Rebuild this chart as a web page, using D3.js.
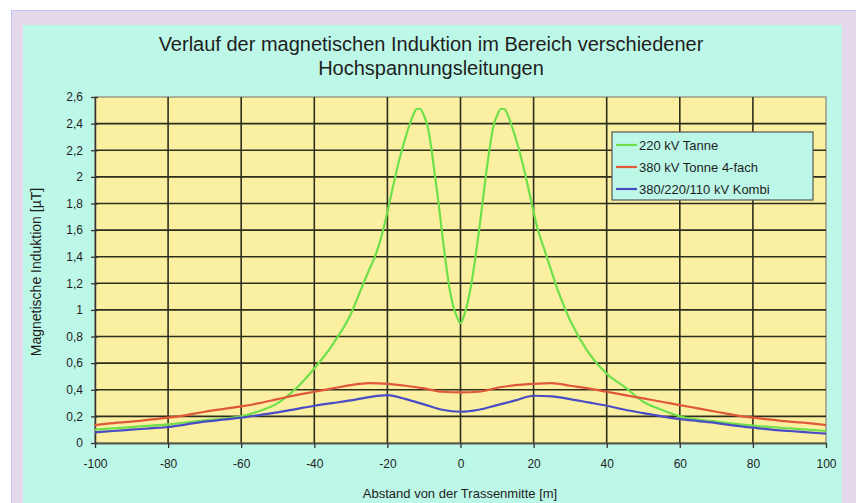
<!DOCTYPE html>
<html>
<head>
<meta charset="utf-8">
<script src="https://cdn.jsdelivr.net/npm/d3@7"></script>
<style>
  html, body { margin: 0; padding: 0; background: #ffffff; }
  svg { display: block; }
  text { font-family: "Liberation Sans", Arial, sans-serif; fill: #1e1e1e; }
</style>
</head>
<body>
<svg id="chart" width="856" height="503"></svg>
<script>
// ---- data ----
const titleLines = ["Verlauf der magnetischen Induktion im Bereich verschiedener", "Hochspannungsleitungen"];
const xAxisTitle = "Abstand von der Trassenmitte [m]";
const yAxisTitle = "Magnetische Induktion [\u00b5T]";
const seriesNames = ["220 kV Tanne", "380 kV Tonne 4-fach", "380/220/110 kV Kombi"];
const xTicks = [-100, -80, -60, -40, -20, 0, 20, 40, 60, 80, 100];
const yTicks = [0, 0.2, 0.4, 0.6, 0.8, 1, 1.2, 1.4, 1.6, 1.8, 2, 2.2, 2.4, 2.6];

const greenX = [-100, -90, -80, -70, -60, -55, -50, -45, -40, -35, -30, -27, -25, -23, -21, -19, -17, -15, -13, -12, -11, -10, -9, -8, -7, -6, -5, -4, -3, -2, -1, 0,
                 1, 2, 3, 4, 5, 6, 7, 8, 9, 10, 11, 12, 13, 15, 17, 19, 21, 23, 25, 27, 30, 35, 40, 45, 50, 55, 60, 70, 80, 90, 100];
const greenY = [0.10, 0.12, 0.14, 0.17, 0.20, 0.24, 0.30, 0.41, 0.56, 0.74, 0.97, 1.17, 1.30, 1.43, 1.62, 1.86, 2.10, 2.30, 2.46, 2.51, 2.51, 2.46, 2.38, 2.22, 2.01, 1.80, 1.57, 1.35, 1.16, 1.03, 0.95, 0.90,
                 0.96, 1.06, 1.20, 1.38, 1.58, 1.80, 2.02, 2.22, 2.38, 2.46, 2.51, 2.51, 2.46, 2.30, 2.10, 1.86, 1.62, 1.45, 1.28, 1.12, 0.92, 0.68, 0.52, 0.42, 0.31, 0.25, 0.20, 0.16, 0.13, 0.11, 0.09];

const stepX = [-100, -95, -90, -85, -80, -75, -70, -65, -60, -55, -50, -45, -40, -35, -30, -25, -20, -15, -10, -5, 0,
               5, 10, 15, 20, 25, 30, 35, 40, 45, 50, 55, 60, 65, 70, 75, 80, 85, 90, 95, 100];
const redY = [0.135, 0.15, 0.16, 0.175, 0.19, 0.21, 0.235, 0.255, 0.275, 0.30, 0.33, 0.36, 0.385, 0.41, 0.435, 0.45, 0.445, 0.43, 0.41, 0.385, 0.38,
              0.385, 0.415, 0.435, 0.445, 0.45, 0.43, 0.41, 0.385, 0.36, 0.335, 0.31, 0.285, 0.26, 0.235, 0.21, 0.19, 0.175, 0.16, 0.15, 0.135];
const blueY = [0.08, 0.09, 0.10, 0.11, 0.12, 0.14, 0.16, 0.175, 0.19, 0.21, 0.23, 0.255, 0.28, 0.30, 0.32, 0.345, 0.36, 0.33, 0.29, 0.25, 0.235,
               0.25, 0.285, 0.32, 0.355, 0.35, 0.33, 0.305, 0.28, 0.25, 0.225, 0.20, 0.18, 0.165, 0.15, 0.13, 0.115, 0.10, 0.09, 0.08, 0.07];

const seriesColors = ["#6ee04a", "#e0583a", "#4a4cc4"];

// ---- layout ----
const svg = d3.select("#chart");
const plot = { left: 95, right: 826, top: 97, bottom: 443 };

svg.append("rect").attr("x", 11.5).attr("y", 10.5).attr("width", 850).attr("height", 500)
   .attr("fill", "#e4d8ea").attr("stroke", "#c4c4f2").attr("stroke-width", 1);
svg.append("rect").attr("x", 23).attr("y", 25).attr("width", 819).attr("height", 478)
   .attr("fill", "#bdf7e8");

const x = d3.scaleLinear().domain([-100, 100]).range([plot.left, plot.right]);
const y = d3.scaleLinear().domain([0, 2.6]).range([plot.bottom, plot.top]);

svg.append("rect").attr("x", plot.left).attr("y", plot.top)
   .attr("width", plot.right - plot.left).attr("height", plot.bottom - plot.top)
   .attr("fill", "#fbf0a2").attr("stroke", "#9a9a88").attr("stroke-width", 1.5);

// gridlines
const grid = svg.append("g");
grid.selectAll("line.h").data(yTicks.filter(v => v > 0 && v < 2.6)).enter().append("line")
  .attr("x1", plot.left).attr("x2", plot.right)
  .attr("y1", d => y(d)).attr("y2", d => y(d))
  .attr("stroke", "#2e2e1c").attr("stroke-width", 1.6);
grid.selectAll("line.v").data(xTicks.filter(v => v > -100 && v < 100)).enter().append("line")
  .attr("y1", plot.top).attr("y2", plot.bottom)
  .attr("x1", d => x(d)).attr("x2", d => x(d))
  .attr("stroke", "#2e2e1c").attr("stroke-width", 1.6);

// axes
const fmt = d => String(d).replace(".", ",");
const yAxis = svg.append("g").attr("transform", `translate(${plot.left},0)`)
  .call(d3.axisLeft(y).tickValues(yTicks).tickFormat(fmt).tickSizeInner(4).tickSizeOuter(0).tickPadding(8));
yAxis.select(".domain").attr("stroke", "#333").attr("stroke-width", 1.5);
yAxis.selectAll(".tick line").attr("stroke", "#333").attr("x1", -4).attr("x2", 3).attr("stroke-width", 1.3);
yAxis.selectAll(".tick text").attr("font-size", 12).attr("fill", "#222").attr("font-family", "Liberation Sans, Arial, sans-serif");

const xAxis = svg.append("g").attr("transform", `translate(0,${plot.bottom})`)
  .call(d3.axisBottom(x).tickValues(xTicks).tickFormat(d => String(d)).tickSizeInner(5).tickSizeOuter(0).tickPadding(11));
xAxis.select(".domain").attr("stroke", "#5a5a48").attr("stroke-width", 2);
xAxis.selectAll(".tick line").attr("stroke", "#333").attr("stroke-width", 1.3);
xAxis.selectAll(".tick text").attr("font-size", 12).attr("fill", "#222").attr("font-family", "Liberation Sans, Arial, sans-serif");

// lines
const line = d3.line().x(d => x(d[0])).y(d => y(d[1])).curve(d3.curveMonotoneX);
const seriesData = [
  d3.zip(greenX, greenY),
  d3.zip(stepX, redY),
  d3.zip(stepX, blueY)
];
svg.append("g").selectAll("path").data(seriesData).enter().append("path")
  .attr("d", line).attr("fill", "none")
  .attr("stroke", (d, i) => seriesColors[i]).attr("stroke-width", 2.2)
  .attr("stroke-linejoin", "round");

// titles
svg.append("g").selectAll("text").data(titleLines).enter().append("text")
  .attr("x", 431).attr("y", (d, i) => 51 + i * 24)
  .attr("text-anchor", "middle").attr("font-size", 20).attr("fill", "#222")
  .text(d => d);

svg.append("text").attr("x", 460).attr("y", 498).attr("text-anchor", "middle")
  .attr("font-size", 13).text(xAxisTitle);

svg.append("text").attr("transform", "translate(41,272) rotate(-90)")
  .attr("text-anchor", "middle").attr("font-size", 14).text(yAxisTitle);

// legend
const lg = svg.append("g").attr("transform", "translate(612,132)");
lg.append("rect").attr("width", 201).attr("height", 68)
  .attr("fill", "#bdf7e8").attr("stroke", "#555").attr("stroke-width", 1.2);
const items = lg.selectAll("g.item").data(seriesNames).enter().append("g")
  .attr("transform", (d, i) => `translate(0,${13 + i * 22})`);
items.append("line").attr("x1", 4).attr("x2", 25).attr("y1", 0).attr("y2", 0)
  .attr("stroke", (d, i) => seriesColors[i]).attr("stroke-width", 2.2);
items.append("text").attr("x", 27).attr("y", 4.5).attr("font-size", 13).text(d => d);
</script>
</body>
</html>
